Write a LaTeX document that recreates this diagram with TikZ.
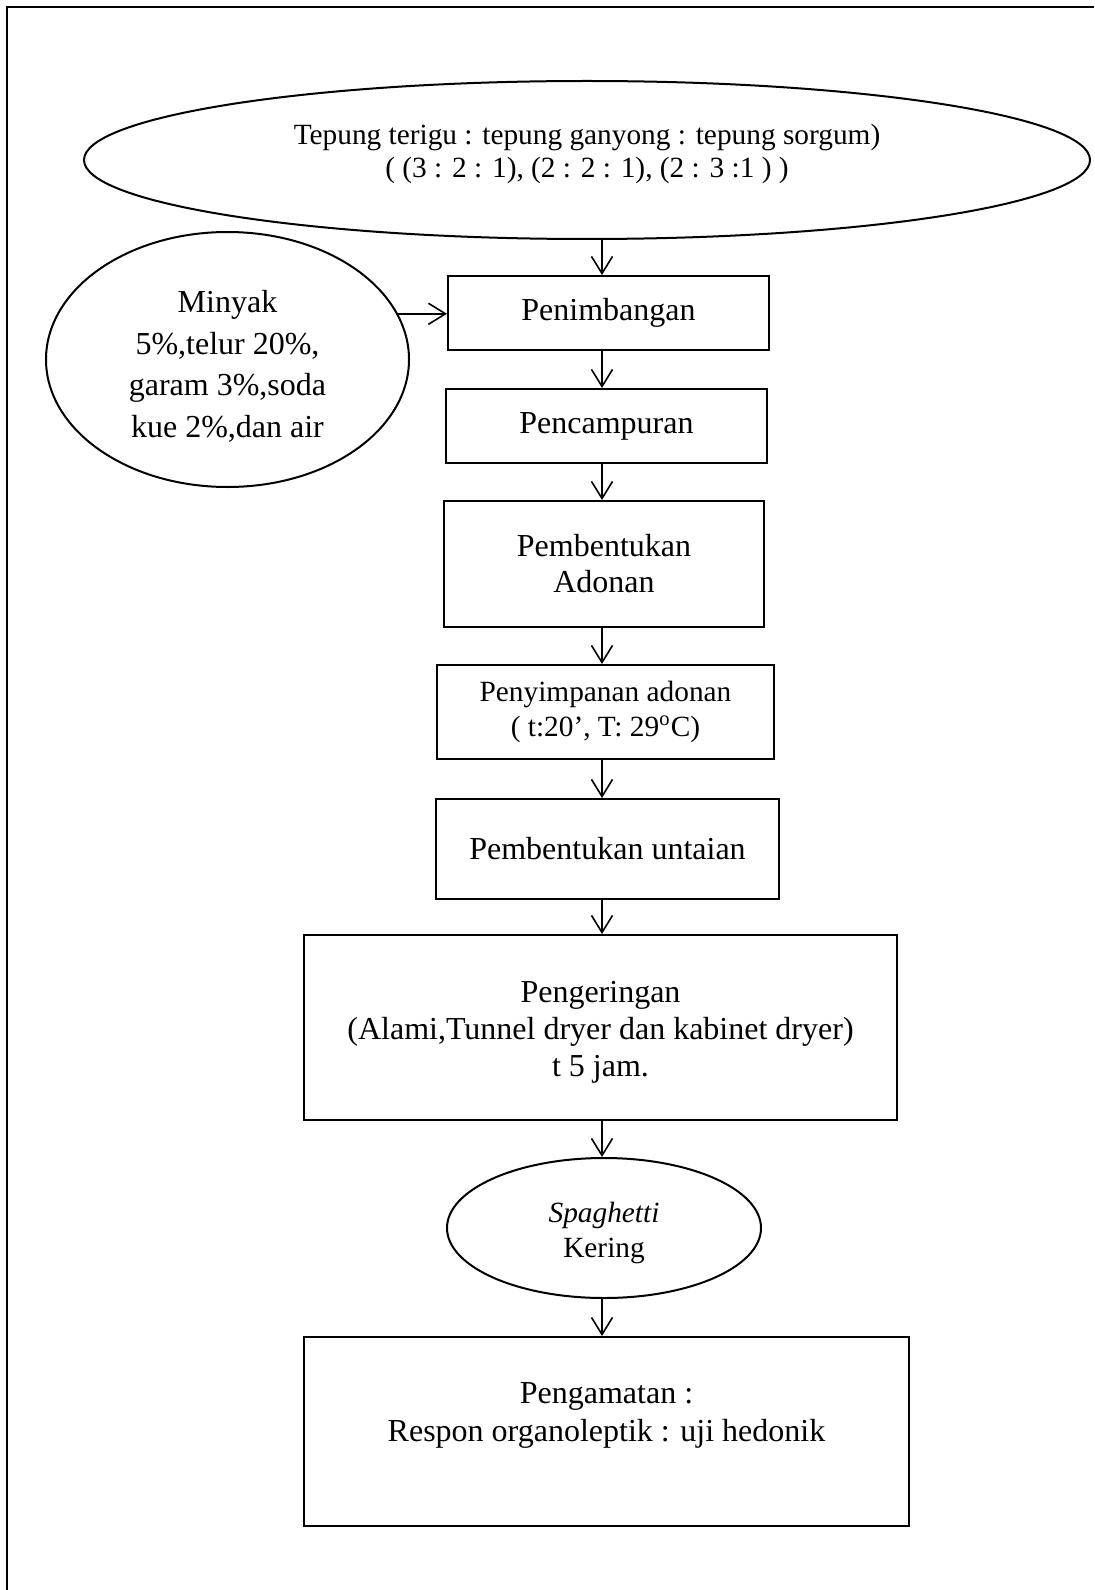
\documentclass[tikz,border=0pt]{standalone}
\usepackage{fontspec}
\setmainfont{Liberation Serif}
\usetikzlibrary{shapes.geometric,arrows.meta}
\begin{document}
\begin{tikzpicture}[x=0.375pt,y=-0.375pt,
  box/.style={draw, rectangle, line width=0.75pt, inner sep=0pt, align=center,
    font=\fontsize{12}{14}\selectfont},
  oval/.style={draw, ellipse, line width=0.75pt, inner sep=0pt, align=center},
  arr/.style={-{Straight Barb[length=6.4pt,width=7.9pt]}, line width=0.6pt},
  frame/.style={line width=0.6pt}]
\useasboundingbox (0,0) rectangle (1094,1590);
\draw[frame] (7,1590) -- (7,7) -- (1094,7);

\node[oval, minimum width=377.25pt, minimum height=59.25pt,
  font=\fontsize{11}{12.2}\selectfont] (bahan) at (587,160)
  {Tepung terigu : tepung ganyong : tepung sorgum)\\( (3 : 2 : 1), (2 : 2 : 1), (2 : 3 :1 ) )\rule[-7pt]{0pt}{7pt}};

\node[oval, minimum width=136.125pt, minimum height=95.625pt,
  font=\fontsize{12}{15.6}\selectfont] (minyak) at (227.5,359.5)
  {\rule{0pt}{13.5pt}Minyak\\5\%,telur 20\%,\\garam 3\%,soda\\kue 2\%,dan air};

\node[box, minimum width=120.375pt, minimum height=27.75pt] (penim) at (608.5,313) {Penimbangan};
\node[box, minimum width=120.375pt, minimum height=27.75pt] (campur) at (606.5,426) {Pencampuran};
\node[box, minimum width=120pt, minimum height=47.25pt,
  font=\fontsize{12}{13.5}\selectfont] (adonan) at (604,564) {Pembentukan\\Adonan};
\node[box, minimum width=126.375pt, minimum height=35.25pt,
  font=\fontsize{11}{13.1}\selectfont] (simpan) at (605.5,712)
  {Penyimpanan adonan\\( t:20’, T: 29\textsuperscript{o}C)};
\node[box, minimum width=128.625pt, minimum height=37.5pt] (untai) at (607.5,849) {Pembentukan untaian};
\node[box, minimum width=222.375pt, minimum height=69.375pt] (kering) at (600.5,1027.5)
  {\rule{0pt}{11.5pt}Pengeringan\\(Alami,Tunnel dryer dan kabinet dryer)\\t 5 jam.};
\node[oval, minimum width=117.75pt, minimum height=52.5pt,
  font=\fontsize{11}{13.1}\selectfont] (spag) at (604,1228)
  {\rule{0pt}{11.5pt}\textit{Spaghetti}\\Kering};
\node[box, minimum width=226.875pt, minimum height=70.875pt,
  font=\fontsize{12}{14.3}\selectfont] (amat) at (606.5,1431.5)
  {Pengamatan :\\Respon organoleptik : uji hedonik\\\mbox{}};

\coordinate (ax) at (602,0);
\draw[arr] (bahan.south -| ax) -- (penim.north -| ax);
\draw[arr] (minyak.15.4) -- (minyak.15.4 -| penim.west);
\draw[arr] (penim.south -| ax) -- (campur.north -| ax);
\draw[arr] (campur.south -| ax) -- (adonan.north -| ax);
\draw[arr] (adonan.south -| ax) -- (simpan.north -| ax);
\draw[arr] (simpan.south -| ax) -- (untai.north -| ax);
\draw[arr] (untai.south -| ax) -- (kering.north -| ax);
\draw[arr] (kering.south -| ax) -- (spag.north -| ax);
\draw[arr] (spag.south -| ax) -- (amat.north -| ax);
\end{tikzpicture}
\end{document}
